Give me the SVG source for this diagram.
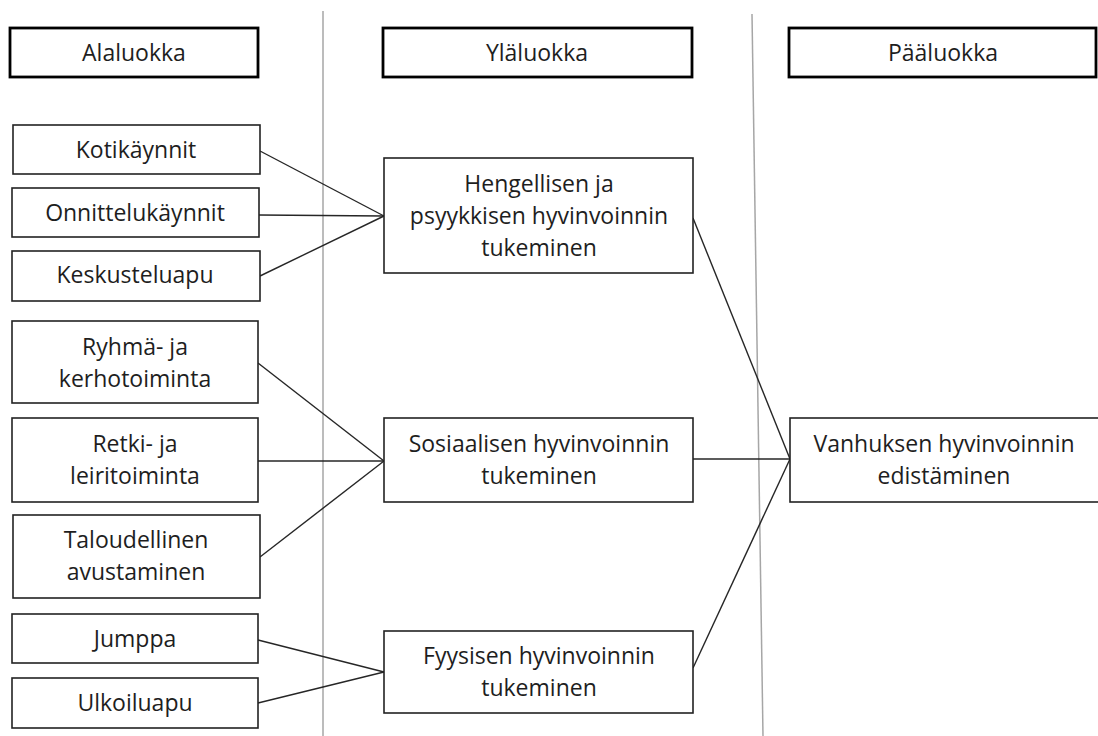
<svg xmlns="http://www.w3.org/2000/svg" width="1098" height="736" viewBox="0 0 1098 736">
<style>
.hdr{fill:#fff;stroke:#000;stroke-width:2.8}
.box{fill:#fff;stroke:#222;stroke-width:1.6}
.sep{stroke:#a6a6a6;stroke-width:1.5;fill:none}
.con{stroke:#262626;stroke-width:1.4;fill:none}
text{font-family:"Open Sans","Noto Sans","Liberation Sans",sans-serif;font-size:23px;fill:#1e1e1e;text-anchor:middle}
</style>
<rect width="1098" height="736" fill="#fff"/>
<g id="separators">
<line class="sep" x1="323" y1="11" x2="323" y2="736"/>
<line class="sep" x1="752" y1="14" x2="763" y2="736"/>
</g>
<g id="connectors">
<line class="con" x1="260" y1="151" x2="384" y2="216"/>
<line class="con" x1="259" y1="215" x2="384" y2="216"/>
<line class="con" x1="260" y1="276" x2="384" y2="216"/>
<line class="con" x1="258" y1="363" x2="384" y2="461"/>
<line class="con" x1="258" y1="461" x2="384" y2="461"/>
<line class="con" x1="260" y1="557" x2="384" y2="461"/>
<line class="con" x1="258" y1="640" x2="384" y2="672"/>
<line class="con" x1="258" y1="703" x2="384" y2="672"/>
<line class="con" x1="693" y1="218" x2="790" y2="459"/>
<line class="con" x1="693" y1="459" x2="790" y2="459"/>
<line class="con" x1="693" y1="668" x2="790" y2="459"/>
</g>
<g id="hdr-alaluokka"><rect class="hdr" x="10" y="28" width="248" height="49"/><text x="134" y="61">Alaluokka</text></g>
<g id="hdr-ylaluokka"><rect class="hdr" x="383" y="28" width="309" height="49"/><text x="537" y="61">Yläluokka</text></g>
<g id="hdr-paaluokka"><rect class="hdr" x="789" y="28" width="307" height="49"/><text x="943" y="61">Pääluokka</text></g>
<g id="n-kotikaynnit"><rect class="box" x="13" y="125" width="247" height="49"/><text x="136" y="158">Kotikäynnit</text></g>
<g id="n-onnittelukaynnit"><rect class="box" x="12" y="188" width="247" height="49"/><text x="135" y="221">Onnittelukäynnit</text></g>
<g id="n-keskusteluapu"><rect class="box" x="12" y="251" width="248" height="50"/><text x="135" y="283">Keskusteluapu</text></g>
<g id="n-ryhma"><rect class="box" x="12" y="321" width="246" height="82"/><text x="135" y="355">Ryhmä- ja</text><text x="135" y="387">kerhotoiminta</text></g>
<g id="n-retki"><rect class="box" x="12" y="418" width="246" height="84"/><text x="135" y="452">Retki- ja</text><text x="135" y="484">leiritoiminta</text></g>
<g id="n-taloudellinen"><rect class="box" x="13" y="515" width="247" height="83"/><text x="136" y="548">Taloudellinen</text><text x="136" y="580">avustaminen</text></g>
<g id="n-jumppa"><rect class="box" x="12" y="614" width="246" height="49"/><text x="135" y="647">Jumppa</text></g>
<g id="n-ulkoiluapu"><rect class="box" x="12" y="678" width="246" height="50"/><text x="135" y="711">Ulkoiluapu</text></g>
<g id="n-hengellisen"><rect class="box" x="384" y="158" width="309" height="115"/><text x="539" y="192">Hengellisen ja</text><text x="539" y="224">psyykkisen hyvinvoinnin</text><text x="539" y="256">tukeminen</text></g>
<g id="n-sosiaalisen"><rect class="box" x="384" y="418" width="309" height="84"/><text x="539" y="452">Sosiaalisen hyvinvoinnin</text><text x="539" y="484">tukeminen</text></g>
<g id="n-fyysisen"><rect class="box" x="384" y="631" width="309" height="82"/><text x="539" y="664">Fyysisen hyvinvoinnin</text><text x="539" y="696">tukeminen</text></g>
<g id="n-vanhuksen"><rect class="box" x="790" y="418" width="310" height="84"/><text x="944" y="452">Vanhuksen hyvinvoinnin</text><text x="944" y="484">edistäminen</text></g>
</svg>
